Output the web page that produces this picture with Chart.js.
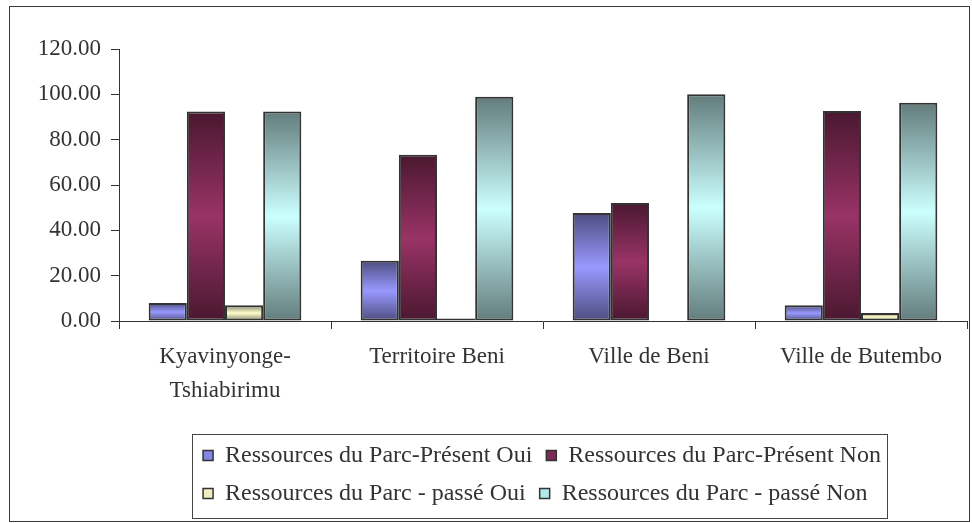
<!DOCTYPE html>
<html>
<head>
<meta charset="utf-8">
<title>Ressources du Parc</title>
<script src="https://cdn.jsdelivr.net/npm/chart.js@4.4.0/dist/chart.umd.min.js"></script>
<style>
  body { margin: 0; background: #fff; }
  #wrap { width: 972px; height: 523px; }
</style>
</head>
<body>
<div id="wrap"><canvas id="chart" width="972" height="523"></canvas></div>
<script>
'use strict';

// categories and series
const categories = [['Kyavinyonge-', 'Tshiabirimu'], 'Territoire Beni', 'Ville de Beni', 'Ville de Butembo'];
const presentOui = [7.9, 26.6, 47.7, 6.9];
const presentNon = [92.4, 73.3, 52.1, 92.6];
const passeOui = [7.0, 1.1, 0, 3.5];
const passeNon = [92.4, 98.9, 100.0, 96.3];
const yTicks = [0, 20, 40, 60, 80, 100, 120];

const seriesNames = [
  'Ressources du Parc-Présent Oui',
  'Ressources du Parc-Présent Non',
  'Ressources du Parc - passé Oui',
  'Ressources du Parc - passé Non'
];
const legendFills = ['#8585e6', '#7d2a55', '#eeeec2', '#b2e8e8'];

const FONT = "'Liberation Serif', 'Times New Roman', serif";
const INK = '#333333';
const LEGEND_PAD = 14;

// vertical gradient per bar: dark at the ends, light in the middle
function barFill(light, dark) {
  return function (ctx) {
    const chart = ctx.chart;
    if (ctx.type !== 'data' || !chart.chartArea) return light;
    const y = chart.scales.y;
    const top = y.getPixelForValue(ctx.raw);
    const base = y.getPixelForValue(0);
    if (base - top < 1) return light;
    const g = chart.ctx.createLinearGradient(0, top, 0, base);
    g.addColorStop(0, dark);
    g.addColorStop(0.5, light);
    g.addColorStop(1, dark);
    return g;
  };
}

function makeSet(label, data, light, dark) {
  return {
    label: label,
    data: data,
    backgroundColor: barFill(light, dark),
    borderColor: INK,
    borderWidth: 2,
    borderSkipped: false,
    categoryPercentage: 0.72,
    barPercentage: 1
  };
}

// outer frame + box around the legend
const framePlugin = {
  id: 'frame',
  afterLayout(chart) {
    // rows start at the same x, first row centred on the plot area
    const lg = chart.legend;
    const ca = chart.chartArea;
    const w = lg.width;
    const rowW = (lg.lineWidths && lg.lineWidths[0]) ? lg.lineWidths[0] - LEGEND_PAD : 0;
    lg.left = (ca.left + ca.right) / 2 - 1 - rowW / 2 - LEGEND_PAD;
    lg.right = lg.left + w;
  },
  afterDraw(chart) {
    const c = chart.ctx;
    c.save();
    c.strokeStyle = '#3a3a3a';
    c.lineWidth = 1;
    c.strokeRect(9.5, 6.5, 960, 515);
    const boxes = chart.legend.legendHitBoxes;
    if (boxes && boxes.length) {
      let l = Infinity, r = -Infinity, t = Infinity, b = -Infinity;
      boxes.forEach(h => {
        l = Math.min(l, h.left);
        r = Math.max(r, h.left + h.width);
        t = Math.min(t, h.top);
        b = Math.max(b, h.top + h.height);
      });
      c.strokeStyle = '#444';
      c.strokeRect(Math.round(l - 11) + 0.5, Math.round(t - 9.5) + 0.5,
        Math.round(r - l + 17), Math.round(b - t + 22));
    }
    c.restore();
  }
};

Chart.defaults.color = INK;
Chart.defaults.font.family = FONT;

new Chart(document.getElementById('chart'), {
  type: 'bar',
  data: {
    labels: categories,
    datasets: [
      makeSet(seriesNames[0], presentOui, '#9999ff', '#4d4d80'),
      makeSet(seriesNames[1], presentNon, '#993366', '#4a1830'),
      makeSet(seriesNames[2], passeOui, '#ffffcc', '#80806a'),
      makeSet(seriesNames[3], passeNon, '#ccffff', '#637c7c')
    ]
  },
  options: {
    responsive: false,
    animation: false,
    layout: { padding: { left: 38, right: 5, top: 49, bottom: 7.5 } },
    plugins: {
      tooltip: { enabled: false },
      legend: {
        position: 'bottom',
        align: 'start',
        labels: {
          font: { family: FONT, size: 24 },
          color: INK,
          boxWidth: 10,
          boxHeight: 10,
          padding: LEGEND_PAD,
          generateLabels(chart) {
            const items = Chart.defaults.plugins.legend.labels.generateLabels(chart);
            items.forEach((it, i) => {
              it.fillStyle = legendFills[i];
              it.strokeStyle = INK;
              it.lineWidth = 1.5;
            });
            return items;
          }
        }
      }
    },
    scales: {
      x: {
        offset: true,
        grid: { offset: true, drawOnChartArea: false, tickLength: 8, color: INK },
        border: { color: INK, width: 1 },
        ticks: {
          font: { family: FONT, size: 23, lineHeight: 1.48 },
          color: INK,
          padding: 11,
          maxRotation: 0,
          autoSkip: false
        },
        afterFit(scale) { scale.height = 108.5; }
      },
      y: {
        min: yTicks[0],
        max: yTicks[yTicks.length - 1],
        grid: { drawOnChartArea: false, tickLength: 8, color: INK },
        border: { color: INK, width: 1 },
        afterBuildTicks(scale) { scale.ticks = yTicks.map(v => ({ value: v })); },
        ticks: {
          font: { family: FONT, size: 23 },
          color: INK,
          padding: 10,
          callback: v => Number(v).toFixed(2)
        },
        afterFit(scale) { scale.width = 81; }
      }
    }
  },
  plugins: [framePlugin]
});
</script>
</body>
</html>
